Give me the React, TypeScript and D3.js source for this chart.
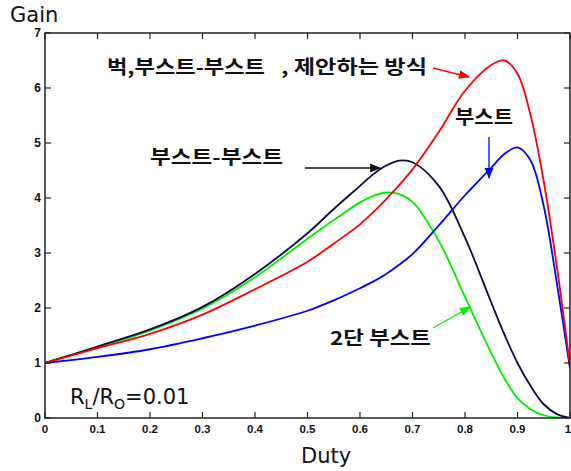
import React from "react";
import * as d3 from "d3";

const duty = [0, 0.1, 0.2, 0.3, 0.4, 0.5, 0.55, 0.6, 0.625, 0.65, 0.675, 0.7, 0.75, 0.8, 0.85, 0.875, 0.9, 0.925, 0.95, 0.975, 1.0];
const proposed = [1.0, 1.27, 1.53, 1.88, 2.34, 2.84, 3.17, 3.52, 3.74, 3.98, 4.24, 4.52, 5.2, 5.95, 6.42, 6.5, 6.26, 5.5, 4.3, 2.75, 0.95];
const boostBoost = [1.0, 1.3, 1.61, 2.02, 2.62, 3.36, 3.8, 4.22, 4.43, 4.59, 4.68, 4.65, 4.22, 3.28, 2.1, 1.52, 1.0, 0.58, 0.25, 0.07, 0.0];
const twoStage = [1.0, 1.29, 1.59, 1.99, 2.56, 3.26, 3.6, 3.92, 4.04, 4.1, 4.07, 3.93, 3.22, 2.2, 1.18, 0.72, 0.36, 0.16, 0.05, 0.01, 0.0];
const boost = [1.0, 1.11, 1.25, 1.45, 1.68, 1.95, 2.14, 2.36, 2.48, 2.62, 2.79, 2.98, 3.5, 4.05, 4.55, 4.8, 4.92, 4.68, 3.85, 2.45, 0.9];

const xTicks = [0, 0.1, 0.2, 0.3, 0.4, 0.5, 0.6, 0.7, 0.8, 0.9, 1];
const yTicks = [0, 1, 2, 3, 4, 5, 6, 7];

const W = 571, H = 471;
const L = 45, R = 570, T = 33, B = 418;

export default function App() {
  const x = d3.scaleLinear().domain([0, 1]).range([L, R]);
  const y = d3.scaleLinear().domain([0, 7]).range([B, T]);
  const line = (vals: number[]) =>
    d3.line<number>().x((_, i) => x(duty[i])).y((v) => y(v)).curve(d3.curveCatmullRom.alpha(0.5))(vals) || "";

  const series = [
    { vals: twoStage, color: "#00ee00" },
    { vals: boostBoost, color: "#0a0a45" },
    { vals: boost, color: "#0000ff" },
    { vals: proposed, color: "#ff0000" },
  ];
  const tickFont = "'Liberation Sans', Arial, sans-serif";
  const kr = "'Noto Sans CJK KR', sans-serif";
  const lab = "'DejaVu Sans', sans-serif";

  return (
    <svg width={W} height={H} style={{ position: "absolute", left: 0, top: 0, background: "#fff" }}>
      <defs>
        <marker id="arR" viewBox="0 0 10 10" refX="9" refY="5" markerWidth="12" markerHeight="11" orient="auto" markerUnits="userSpaceOnUse">
          <path d="M0,1 L10,5 L0,9 z" fill="#ff0000" />
        </marker>
        <marker id="arK" viewBox="0 0 10 10" refX="9" refY="5" markerWidth="12" markerHeight="11" orient="auto" markerUnits="userSpaceOnUse">
          <path d="M0,1 L10,5 L0,9 z" fill="#111" />
        </marker>
        <marker id="arB" viewBox="0 0 10 10" refX="9" refY="5" markerWidth="12" markerHeight="11" orient="auto" markerUnits="userSpaceOnUse">
          <path d="M0,1 L10,5 L0,9 z" fill="#0000ff" />
        </marker>
        <marker id="arG" viewBox="0 0 10 10" refX="9" refY="5" markerWidth="12" markerHeight="11" orient="auto" markerUnits="userSpaceOnUse">
          <path d="M0,1 L10,5 L0,9 z" fill="#00ee00" />
        </marker>
        <clipPath id="clip">
          <rect x={L} y={T} width={R - L} height={B - T} />
        </clipPath>
      </defs>

      {/* curves */}
      <g clipPath="url(#clip)">
        {series.map((s, i) => (
          <path key={i} d={line(s.vals)} fill="none" stroke={s.color} strokeWidth={1.8} />
        ))}
      </g>

      {/* axes box */}
      <rect x={L} y={T} width={R - L} height={B - T} fill="none" stroke="#222" strokeWidth={1.5} />
      {xTicks.map((t) => (
        <g key={"x" + t}>
          <line x1={x(t)} x2={x(t)} y1={B} y2={B - 6} stroke="#222" strokeWidth={1.2} />
          <line x1={x(t)} x2={x(t)} y1={T} y2={T + 6} stroke="#222" strokeWidth={1.2} />
          <text x={t === 1 ? x(t) - 2 : x(t)} y={433} textAnchor="middle" fontFamily={tickFont} fontWeight="bold" fontSize={11.5} fill="#111">
            {t}
          </text>
        </g>
      ))}
      {yTicks.map((t) => (
        <g key={"y" + t}>
          <line x1={L} x2={L + 6} y1={y(t)} y2={y(t)} stroke="#222" strokeWidth={1.2} />
          <line x1={R} x2={R - 6} y1={y(t)} y2={y(t)} stroke="#222" strokeWidth={1.2} />
          <text x={41} y={y(t) + 4} textAnchor="end" fontFamily={tickFont} fontWeight="bold" fontSize={12} fill="#111">
            {t}
          </text>
        </g>
      ))}

      {/* axis titles */}
      <text x={10} y={22} fontFamily={lab} fontSize={21} fill="#111">Gain</text>
      <text x={301} y={463} fontFamily={lab} fontSize={21} fill="#111">Duty</text>

      {/* ratio label */}
      <text x={70} y={404} fontFamily={lab} fontSize={21} fill="#111">
        R<tspan fontSize={14} dy={5}>L</tspan>
        <tspan dy={-5}>/R</tspan>
        <tspan fontSize={14} dy={5}>O</tspan>
        <tspan dy={-5}>=0.01</tspan>
      </text>

      {/* annotations */}
      <text x={107} y={74} fontFamily={kr} fontWeight="bold" fontSize={19} fill="#111" textLength={158} lengthAdjust="spacingAndGlyphs">벅,부스트-부스트</text>
      <text x={281} y={74} fontFamily={kr} fontWeight="bold" fontSize={19} fill="#111" textLength={146} lengthAdjust="spacingAndGlyphs">, 제안하는 방식</text>
      <line x1={433} y1={68} x2={469} y2={77} stroke="#ff0000" strokeWidth={1.3} markerEnd="url(#arR)" />

      <text x={150} y={164} fontFamily={kr} fontWeight="bold" fontSize={19} fill="#111" textLength={133} lengthAdjust="spacingAndGlyphs">부스트-부스트</text>
      <line x1={305} y1={168} x2={380} y2={168} stroke="#111" strokeWidth={1.3} markerEnd="url(#arK)" />

      <text x={455} y={124} fontFamily={kr} fontWeight="bold" fontSize={19} fill="#111" textLength={58} lengthAdjust="spacingAndGlyphs">부스트</text>
      <line x1={489} y1={137} x2={489} y2={178} stroke="#0000ff" strokeWidth={1.3} markerEnd="url(#arB)" />

      <text x={330} y={345} fontFamily={kr} fontWeight="bold" fontSize={19} fill="#111" textLength={101} lengthAdjust="spacingAndGlyphs">2단 부스트</text>
      <line x1={433} y1={328} x2={470} y2={307} stroke="#00ee00" strokeWidth={1.3} markerEnd="url(#arG)" />
    </svg>
  );
}
